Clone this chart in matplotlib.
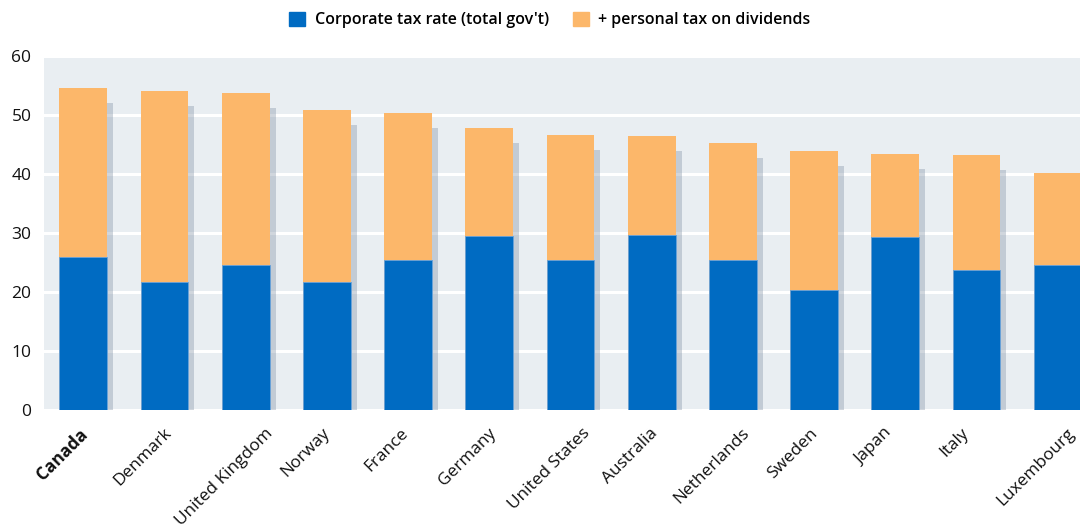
import matplotlib
matplotlib.use("Agg")
import matplotlib.pyplot as plt
import matplotlib.patheffects as pe
from matplotlib.patches import Patch
import numpy as np

countries = ["Canada", "Denmark", "United Kingdom", "Norway", "France", "Germany",
             "United States", "Australia", "Netherlands", "Sweden", "Japan", "Italy",
             "Luxembourg"]
corporate = [26.0, 21.7, 24.6, 21.7, 25.5, 29.5, 25.5, 29.7, 25.5, 20.4, 29.4, 23.8, 24.6]
combined = [54.6, 54.1, 53.7, 50.8, 50.3, 47.8, 46.6, 46.4, 45.3, 43.9, 43.4, 43.2, 40.2]
y_ticks = [0, 10, 20, 30, 40, 50, 60]

BLUE = "#006bc2"
ORANGE = "#fcb76a"
BG = "#e9eef2"
W, H = 1080, 527

plt.rcParams["font.family"] = ["Open Sans", "DejaVu Sans"]

fig = plt.figure(figsize=(W / 100, H / 100), dpi=100)
ax = fig.add_axes([44 / W, 117 / H, 1036 / W, 354 / H])
ax.set_facecolor(BG)

x = np.arange(len(countries))
w = 0.59

# total bar (drawn full height) carries the drop shadow
shadow = [pe.SimplePatchShadow(offset=(4.3, -10.8), shadow_rgbFace="#7d8fa3", alpha=0.36),
          pe.Normal()]
ax.bar(x, combined, width=w, color=ORANGE, zorder=2, path_effects=shadow)
ax.bar(x, corporate, width=w, color=BLUE, edgecolor="#6aa3da", linewidth=0.6, zorder=3)

ax.set_xlim(-0.484, 12.275)
ax.set_ylim(0, 60)
ax.set_yticks(y_ticks)
# labels are centred under the left edge of each bar
ax.set_xticks(x - w / 2 + 0.03)
ax.set_xticklabels(countries, rotation=45, ha="center", va="top")
ax.get_xticklabels()[0].set_fontweight("bold")

ax.grid(axis="y", color="white", linewidth=2.2, zorder=1)
ax.set_axisbelow(True)
for s in ax.spines.values():
    s.set_visible(False)
ax.tick_params(axis="both", length=0, labelsize=12.5, colors="#111111")
ax.tick_params(axis="y", pad=9)
ax.tick_params(axis="x", pad=11, labelsize=12.4)

handles = [Patch(color=BLUE, label="Corporate tax rate (total gov't)"),
           Patch(color=ORANGE, label="+ personal tax on dividends")]
fig.legend(handles=handles, loc="upper center", bbox_to_anchor=(0.509, 1.005), ncol=2,
           frameon=False, handlelength=1.0, handleheight=1.0, columnspacing=1.5,
           handletextpad=0.6, prop={"size": 11.5, "weight": "semibold"})

fig.savefig("out.png", dpi=100, facecolor="white")
